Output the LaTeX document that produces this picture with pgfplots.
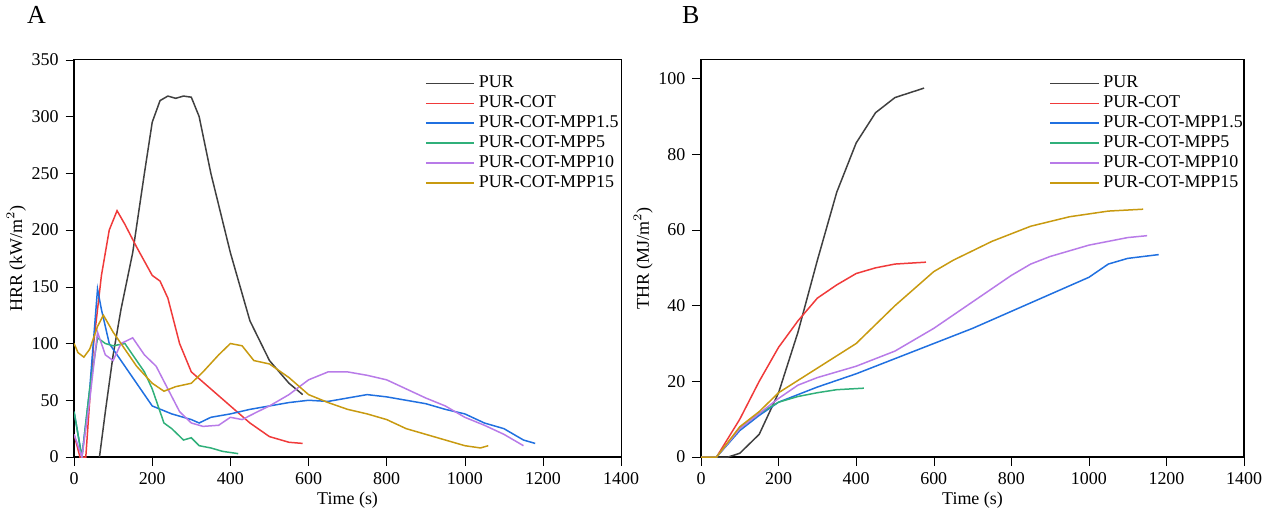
\documentclass[border=0pt]{standalone}
\usepackage{pgfplots}
\pgfplotsset{compat=1.18}
\usepackage{fontspec}
\setmainfont{Liberation Serif}
\definecolor{cP}{HTML}{404040}
\definecolor{cC}{HTML}{F03A3A}
\definecolor{cA}{HTML}{2070E0}
\definecolor{cB}{HTML}{30B07A}
\definecolor{cD}{HTML}{B87BE8}
\definecolor{cE}{HTML}{C89A10}
\pgfplotsset{
 myax/.style={scale only axis, height=199pt, xmin=0,xmax=1400,
  xtick={0,200,...,1400}, tick align=outside, axis line style={line width=0.6pt},
  xtick pos=bottom, ytick pos=left,
  tick style={black}, font=\fontsize{9}{10}\selectfont,
  /pgf/number format/assume math mode=true, /pgf/number format/1000 sep={},
  xlabel={Time (s)}, xlabel style={yshift=3pt}, ylabel style={yshift=-4pt},
  every axis plot/.append style={line width=0.75pt},
  legend cell align=left,
  legend style={draw=none, fill=none, font=\fontsize{9}{10}\selectfont, row sep=-1.5pt},
  legend image code/.code={\draw[##1] (0pt,0pt) -- (0.85cm,0pt);},
 }}
\begin{document}
\begin{tikzpicture}
\path (0pt,0pt) rectangle (636.5pt,263pt);
\node[anchor=base west,font=\fontsize{13}{13}\selectfont] at (9pt,252pt) {A};
\node[anchor=base west,font=\fontsize{13}{13}\selectfont] at (337pt,252pt) {B};
\begin{axis}[myax, width=274pt, at={(36pt,35pt)}, anchor=south west, ymin=0, ymax=350, ytick={0,50,...,350},
 ylabel={HRR (kW/m$^2$)},
 legend style={at={(0.63,0.98)},anchor=north west}]
\addplot[cP] coordinates {(65,0)(80,40)(100,90)(120,130)(150,180)(180,250)(200,295)(220,314)(240,318)(260,316)(280,318)(300,317)(320,300)(350,250)(400,180)(450,120)(500,85)(550,65)(585,55)};
\addplot[cC] coordinates {(0,20)(15,0)(30,0)(50,100)(70,160)(90,200)(110,217)(130,205)(160,185)(200,160)(220,155)(240,140)(270,100)(300,75)(350,60)(400,45)(450,30)(500,18)(550,13)(585,12)};
\addplot[cA] coordinates {(0,40)(20,0)(40,60)(60,148)(70,130)(90,100)(120,85)(150,70)(200,45)(250,38)(300,33)(320,30)(350,35)(400,38)(450,42)(500,45)(550,48)(600,50)(650,49)(700,52)(750,55)(800,53)(850,50)(900,47)(950,42)(1000,38)(1050,30)(1100,25)(1150,15)(1180,12)};
\addplot[cB] coordinates {(0,40)(20,0)(40,60)(60,105)(80,100)(100,98)(130,100)(150,90)(180,75)(200,60)(230,30)(250,25)(280,15)(300,17)(320,10)(350,8)(380,5)(420,3)};
\addplot[cD] coordinates {(0,20)(20,0)(40,50)(60,110)(80,90)(100,85)(120,100)(150,105)(180,90)(210,80)(240,60)(270,40)(300,30)(330,27)(370,28)(400,35)(430,33)(470,40)(500,45)(550,55)(600,68)(650,75)(700,75)(750,72)(800,68)(850,60)(900,52)(950,45)(1000,35)(1050,28)(1100,20)(1150,10)};
\addplot[cE] coordinates {(0,100)(10,92)(25,88)(40,95)(60,115)(75,125)(100,110)(130,95)(160,80)(200,65)(230,58)(260,62)(300,65)(330,75)(370,90)(400,100)(430,98)(460,85)(500,82)(550,70)(600,55)(650,48)(700,42)(750,38)(800,33)(850,25)(900,20)(950,15)(1000,10)(1040,8)(1060,10)};
\legend{PUR,PUR-COT,PUR-COT-MPP1.5,PUR-COT-MPP5,PUR-COT-MPP10,PUR-COT-MPP15}
\end{axis}
\begin{axis}[myax, width=272pt, at={(350pt,35pt)}, anchor=south west, ymin=0, ymax=105, ytick={0,20,...,100},
 ylabel={THR (MJ/m$^2$)},
 legend style={at={(0.63,0.98)},anchor=north west}]
\addplot[cP] coordinates {(0,0)(70,0)(100,1)(150,6)(200,17)(250,33)(300,52)(350,70)(400,83)(450,91)(500,95)(575,97.5)};
\addplot[cC] coordinates {(0,0)(40,0)(100,10)(150,20)(200,29)(250,36)(300,42)(350,45.5)(400,48.5)(450,50)(500,51)(580,51.5)};
\addplot[cA] coordinates {(0,0)(40,0)(100,7)(150,11)(200,14.5)(300,18.5)(400,22)(500,26)(600,30)(700,34)(800,38.5)(900,43)(1000,47.5)(1050,51)(1100,52.5)(1180,53.5)};
\addplot[cB] coordinates {(0,0)(40,0)(100,7.5)(150,11.5)(200,14.5)(250,16)(300,17)(350,17.8)(420,18.2)};
\addplot[cD] coordinates {(0,0)(40,0)(100,7.5)(150,11.5)(200,15.5)(250,19)(300,21)(400,24)(500,28)(600,34)(700,41)(800,48)(850,51)(900,53)(1000,56)(1100,58)(1150,58.5)};
\addplot[cE] coordinates {(0,0)(40,0)(100,8)(150,12)(200,17)(300,23.5)(400,30)(500,40)(600,49)(650,52)(750,57)(850,61)(950,63.5)(1050,65)(1140,65.5)};
\legend{PUR,PUR-COT,PUR-COT-MPP1.5,PUR-COT-MPP5,PUR-COT-MPP10,PUR-COT-MPP15}
\end{axis}
\end{tikzpicture}
\end{document}
